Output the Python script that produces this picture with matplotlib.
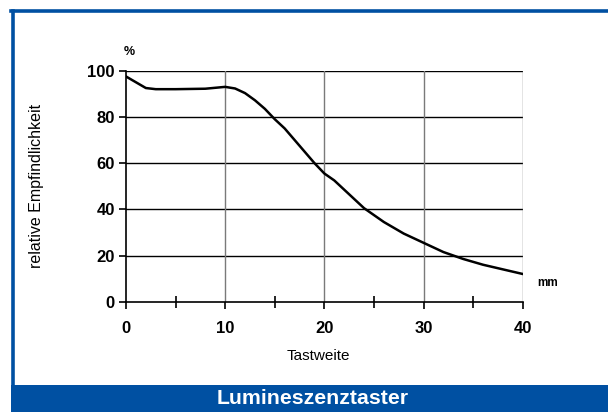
import matplotlib
matplotlib.use("Agg")
import matplotlib.pyplot as plt
from matplotlib.patches import Rectangle
from matplotlib.lines import Line2D
from matplotlib.ticker import MultipleLocator

plt.rcParams['font.family'] = ['Liberation Sans', 'DejaVu Sans']

# Sensing distance (mm) and relative sensitivity (%)
tastweite = [0, 1, 2, 3, 5, 8, 10, 11, 12, 13, 14, 15, 16, 17, 18, 19, 20,
             21, 22, 24, 26, 28, 30, 32, 34, 36, 38, 40]
empfindlichkeit = [97.5, 95, 92.5, 92, 92, 92.2, 93, 92.3, 90.3, 87.2, 83.5,
                   79, 75, 70, 65, 60, 55.5, 52.5, 48.5, 40.5, 34.5, 29.5,
                   25.5, 21.5, 18.5, 16, 14, 12]
x_ticks = [0, 10, 20, 30, 40]
y_ticks = [0, 20, 40, 60, 80, 100]

BLUE = "#0050A2"
W, H = 608, 412

fig = plt.figure(figsize=(W / 100, H / 100), dpi=100)
fig.patch.set_facecolor("white")


def fx(px):
    return px / W


def fy(py):
    return 1 - py / H


# Blue frame around the chart area (open on the right side)
fig.add_artist(Line2D([fx(12.5), fx(12.5)], [fy(10.5), fy(385)],
                      color=BLUE, lw=2.6, transform=fig.transFigure))
fig.add_artist(Line2D([fx(11.2), fx(608)], [fy(10.5), fy(10.5)],
                      color=BLUE, lw=2.6, transform=fig.transFigure))
fig.add_artist(Rectangle((fx(11.2), 0), fx(608) - fx(11.2), fy(384.5),
                         transform=fig.transFigure, color=BLUE, lw=0))
fig.text(fx(313), fy(399), "Lumineszenztaster", color="white",
         fontsize=15.3, fontweight="bold", ha="center", va="center")

ax = fig.add_axes([fx(126), fy(301.7), fx(522.7) - fx(126), fy(70.7) - fy(301.7)])
ax.set_xlim(0, 40)
ax.set_ylim(0, 100)

# Grid: black horizontal lines, grey vertical lines
for yv in y_ticks[1:]:
    ax.axhline(yv, color="black", lw=1.0, zorder=1)
for xv in x_ticks[1:]:
    ax.axvline(xv, color="#7a7a7a", lw=1.0, zorder=1)

ax.plot(tastweite, empfindlichkeit, color="black", lw=1.8, zorder=3,
        solid_joinstyle="round")

for side in ("top", "right"):
    ax.spines[side].set_visible(False)
ax.spines["left"].set_linewidth(1.2)
ax.spines["bottom"].set_linewidth(1.2)

ax.set_xticks(x_ticks)
ax.set_yticks(y_ticks)
ax.xaxis.set_minor_locator(MultipleLocator(5))
ax.tick_params(axis="x", which="major", direction="out", length=5, width=1.2,
               labelsize=12, pad=9)
ax.tick_params(axis="x", which="minor", direction="inout", length=9, width=1.2)
ax.tick_params(axis="y", which="major", direction="out", length=5, width=1.2,
               labelsize=12, pad=3)
for lbl in ax.get_xticklabels() + ax.get_yticklabels():
    lbl.set_fontweight("bold")

fig.text(fx(129), fy(52), "%", fontsize=9, fontweight="bold",
         ha="center", va="center")
fig.text(fx(548), fy(283.5), "mm", fontsize=8.5, fontweight="bold",
         ha="center", va="center")
fig.text(fx(318), fy(356), "Tastweite", fontsize=11, ha="center", va="center")
fig.text(fx(37), fy(186), "relative Empfindlichkeit", fontsize=11.5,
         rotation=90, ha="center", va="center")

fig.savefig("out.png", dpi=100)
